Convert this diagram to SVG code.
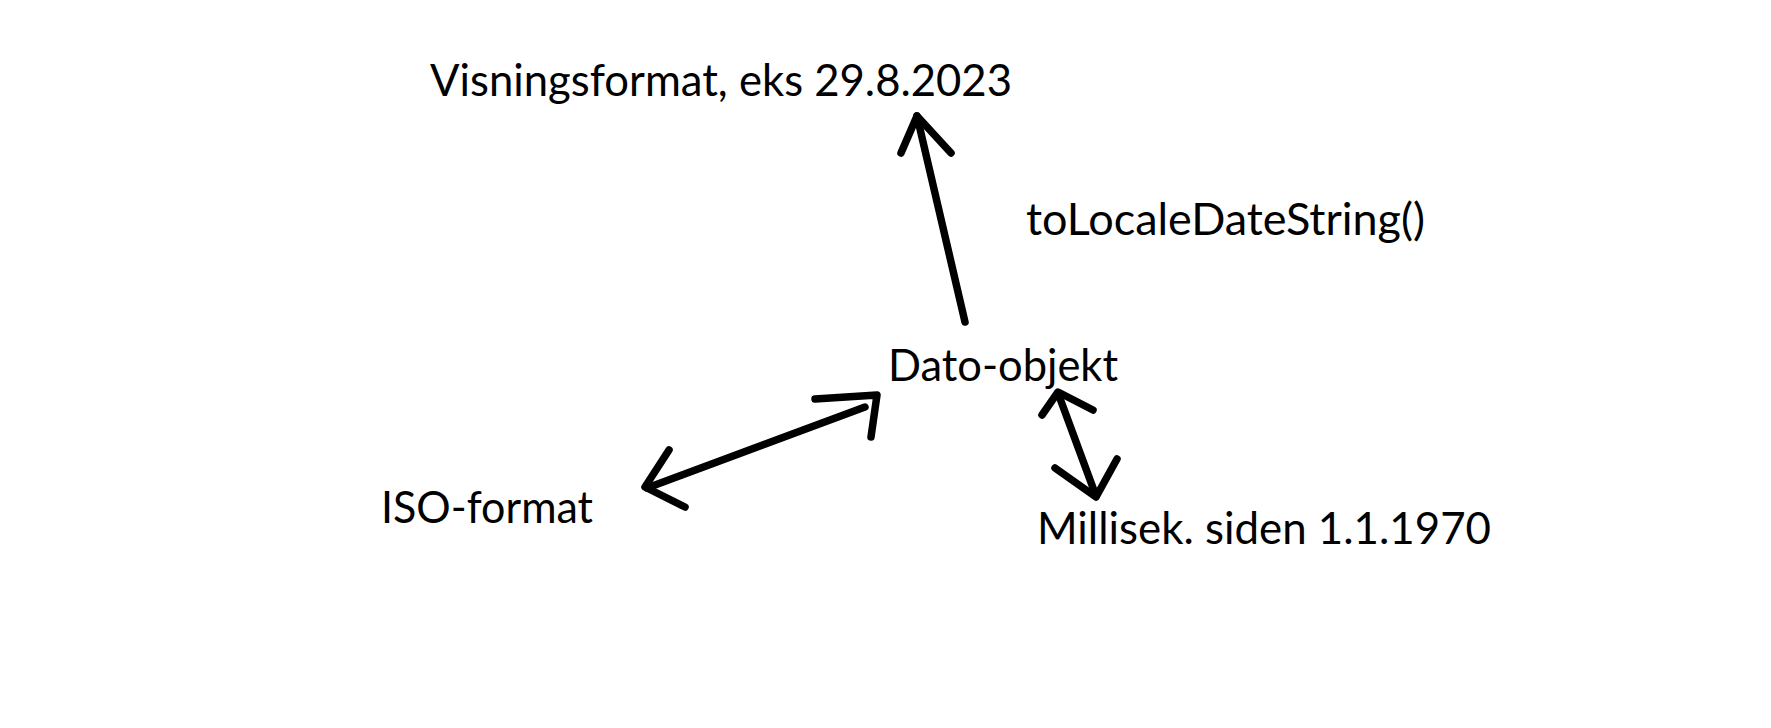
<svg xmlns="http://www.w3.org/2000/svg" width="1771" height="728" viewBox="0 0 1771 728">
<style>
.t{font-family:Lato,"Open Sans","Liberation Sans",sans-serif;font-size:45px;fill:#000}
.c{fill:none;stroke:#000;stroke-width:7.5;stroke-linecap:round;stroke-linejoin:round}
</style>
<rect width="1771" height="728" fill="#fff"/>
<g id="connectors">
<g id="arrow-dato-visning">
<line class="c" x1="965" y1="322" x2="917" y2="116"/>
<polyline class="c" points="901,153 917,116 951,153"/>
</g>
<g id="arrow-dato-iso">
<line class="c" x1="865" y1="407" x2="647" y2="488"/>
<polyline class="c" points="815,399 877,395 871,437"/>
<polyline class="c" points="669,450 645,487 685,507"/>
</g>
<g id="arrow-dato-millisek">
<line class="c" x1="1058" y1="393" x2="1096" y2="496"/>
<polyline class="c" points="1042,415 1058,392 1093,410"/>
<polyline class="c" points="1055,468 1096,497 1117,459"/>
</g>
</g>
<g id="label-toLocaleDateString">
<text class="t" x="1026" y="235" textLength="399" lengthAdjust="spacingAndGlyphs">toLocaleDateString()</text>
</g>
<g id="node-visningsformat">
<text class="t" x="430" y="96" textLength="582" lengthAdjust="spacingAndGlyphs">Visningsformat, eks 29.8.2023</text>
</g>
<g id="node-dato-objekt">
<text class="t" x="888" y="381" textLength="230" lengthAdjust="spacingAndGlyphs">Dato-objekt</text>
</g>
<g id="node-iso-format">
<text class="t" x="381" y="523" textLength="212" lengthAdjust="spacingAndGlyphs">ISO-format</text>
</g>
<g id="node-millisek">
<text class="t" x="1037" y="544" textLength="454" lengthAdjust="spacingAndGlyphs">Millisek. siden 1.1.1970</text>
</g>
</svg>
